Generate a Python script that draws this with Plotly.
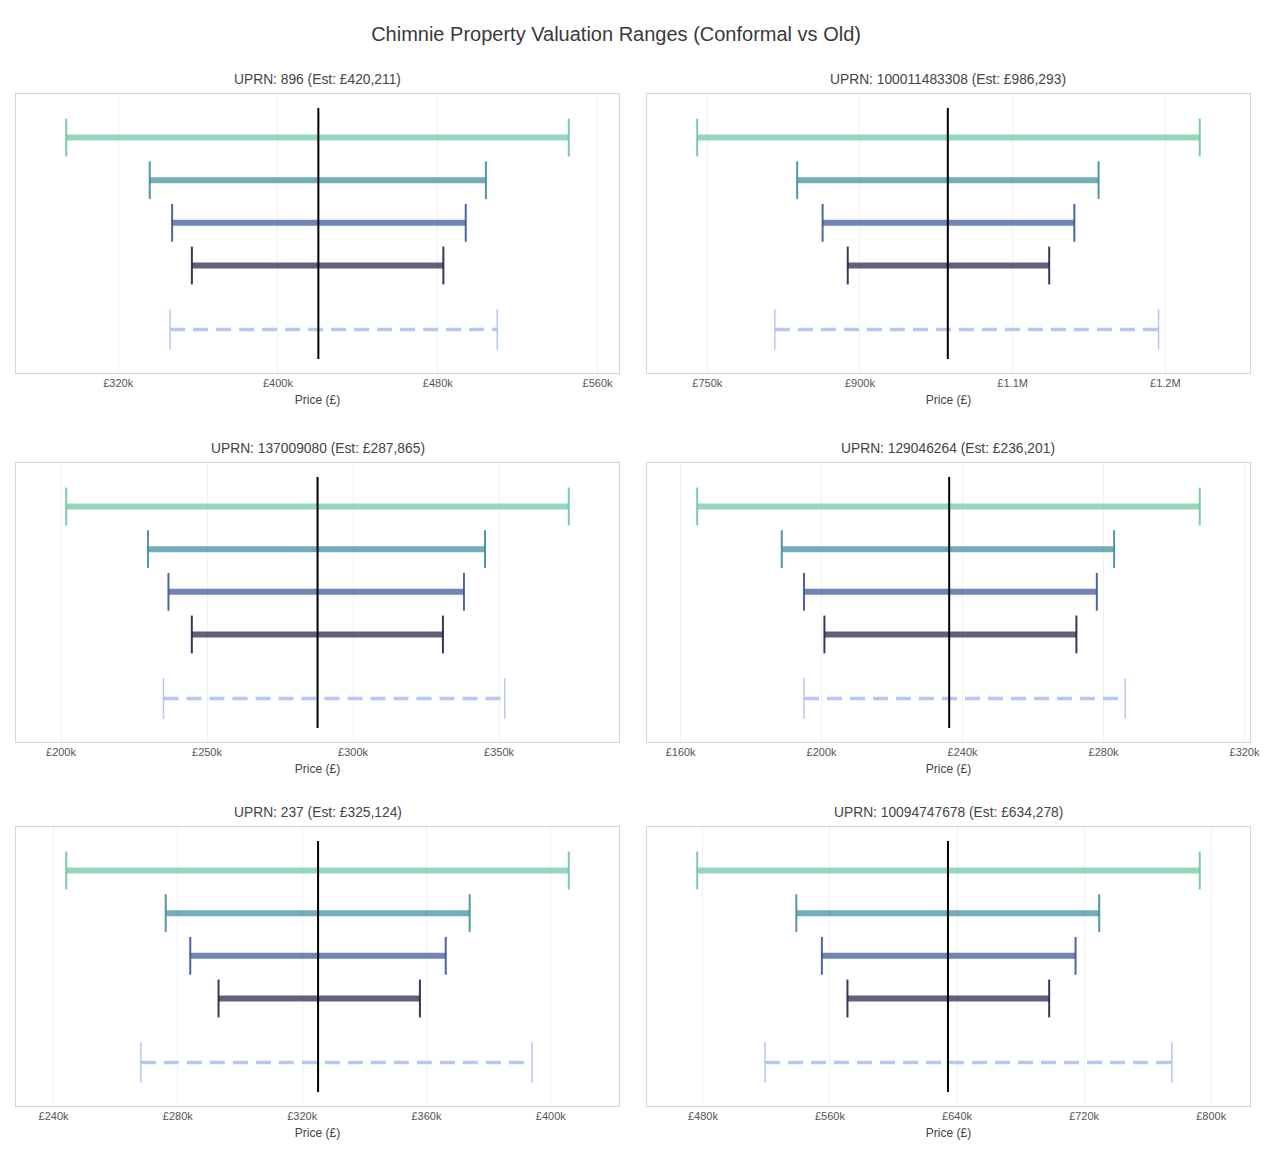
import plotly.graph_objects as go

# ---------------- data ----------------
uprns = ["896", "100011483308", "137009080", "129046264", "237", "10094747678"]
estimates = [420211, 986293, 287865, 236201, 325124, 634278]

level_names = ["Conformal (widest)", "Conformal (wide)", "Conformal (mid)", "Conformal (narrow)"]

# conformal intervals, in £
lower_l1 = [294000, 740100, 201800, 164700, 244100, 476400]
upper_l1 = [545600, 1233800, 373900, 307300, 405800, 792800]
lower_l2 = [335800, 838300, 229800, 188700, 276100, 538800]
upper_l2 = [504100, 1134400, 345200, 283000, 373900, 729500]
lower_l3 = [347000, 863300, 236800, 195000, 284000, 554900]
upper_l3 = [494000, 1110600, 338000, 278100, 366200, 714600]
lower_l4 = [356900, 888000, 244800, 200800, 293100, 571000]
upper_l4 = [482800, 1085900, 330800, 272300, 357900, 698000]

# old method range
old_lower = [346000, 816400, 235100, 195000, 268100, 519100]
old_upper = [509800, 1193300, 352000, 286200, 394000, 775200]

tick_values = [
    [320000, 400000, 480000, 560000],
    [750000, 900000, 1050000, 1200000],
    [200000, 250000, 300000, 350000],
    [160000, 200000, 240000, 280000, 320000],
    [240000, 280000, 320000, 360000, 400000],
    [480000, 560000, 640000, 720000, 800000],
]
tick_labels = [
    ["£320k", "£400k", "£480k", "£560k"],
    ["£750k", "£900k", "£1.1M", "£1.2M"],
    ["£200k", "£250k", "£300k", "£350k"],
    ["£160k", "£200k", "£240k", "£280k", "£320k"],
    ["£240k", "£280k", "£320k", "£360k", "£400k"],
    ["£480k", "£560k", "£640k", "£720k", "£800k"],
]

# ---------------- style ----------------
FONT = "Liberation Sans, Arial, sans-serif"
level_colors = [(108, 200, 160), (62, 140, 160), (58, 84, 152), (38, 33, 72)]
level_alpha = 0.72
old_color = (170, 192, 240)
row_y = [3, 2, 1, 0]      # conformal rows
old_y = -1.5              # old range row
y_range = [-2.52, 4.02]

x_domains = [[0.0, 0.4887], [0.5113, 1.0]]
y_domains = [[0.7243, 1.0], [0.3597, 0.6354], [0.0, 0.2757]]

fig = go.Figure()
lowers = [lower_l1, lower_l2, lower_l3, lower_l4]
uppers = [upper_l1, upper_l2, upper_l3, upper_l4]

layout_axes = {}
shapes = []
annotations = []

for i in range(6):
    r, c = divmod(i, 2)
    n = i + 1
    xa = "x" if n == 1 else f"x{n}"
    ya = "y" if n == 1 else f"y{n}"
    # conformal levels
    for k in range(4):
        rgb = level_colors[k]
        fig.add_trace(go.Scatter(
            x=[lowers[k][i], uppers[k][i]], y=[row_y[k], row_y[k]],
            mode="lines", line=dict(color=f"rgba({rgb[0]},{rgb[1]},{rgb[2]},{level_alpha})", width=6),
            xaxis=xa, yaxis=ya, showlegend=False, name=level_names[k], hoverinfo="x+name"))
        cap_col = f"rgba({rgb[0]},{rgb[1]},{rgb[2]},0.9)"
        fig.add_trace(go.Scatter(
            x=[lowers[k][i], uppers[k][i]], y=[row_y[k], row_y[k]],
            mode="markers",
            marker=dict(symbol="line-ns-open", size=27, color=cap_col,
                        line=dict(color=cap_col, width=2)),
            xaxis=xa, yaxis=ya, showlegend=False, name=level_names[k], hoverinfo="skip"))
    # old range
    old_col = f"rgba({old_color[0]},{old_color[1]},{old_color[2]},0.88)"
    fig.add_trace(go.Scatter(
        x=[old_lower[i], old_upper[i]], y=[old_y, old_y],
        mode="lines", line=dict(color=old_col, width=3.5, dash="15px,8px"),
        xaxis=xa, yaxis=ya, showlegend=False, name="Old range", hoverinfo="x+name"))
    fig.add_trace(go.Scatter(
        x=[old_lower[i], old_upper[i]], y=[old_y, old_y],
        mode="markers",
        marker=dict(symbol="line-ns-open", size=29, color=old_col,
                    line=dict(color=old_col, width=1.5)),
        xaxis=xa, yaxis=ya, showlegend=False, name="Old range", hoverinfo="skip"))

    lo = min(lower_l1[i], old_lower[i])
    hi = max(upper_l1[i], old_upper[i])
    span = hi - lo
    xr = [lo - 0.1 * span, hi + 0.1 * span]

    xkey = "xaxis" if n == 1 else f"xaxis{n}"
    ykey = "yaxis" if n == 1 else f"yaxis{n}"
    layout_axes[xkey] = dict(
        domain=x_domains[c], anchor=ya, range=xr,
        tickvals=tick_values[i], ticktext=tick_labels[i],
        tickfont=dict(size=11, color="#555555", family=FONT),
        showgrid=True, gridcolor="#f1f1f1", gridwidth=1,
        showline=True, linecolor="#d6d6d6", linewidth=1, mirror=True,
        zeroline=False, ticks="", ticklabeloverflow="allow", automargin=False,
        title=dict(text="Price (£)", font=dict(size=12, color="#444444", family=FONT), standoff=7),
    )
    layout_axes[ykey] = dict(
        domain=y_domains[r], anchor=xa, range=y_range, automargin=False,
        showticklabels=False, showgrid=False, zeroline=False,
        showline=True, linecolor="#d6d6d6", linewidth=1, mirror=True, ticks="",
    )
    shapes.append(dict(
        type="line", xref=xa, yref=f"{ya} domain",
        x0=estimates[i], x1=estimates[i], y0=0.05, y1=0.95,
        line=dict(color="black", width=2), layer="above"))
    annotations.append(dict(
        text=f"UPRN: {uprns[i]} (Est: £{estimates[i]:,})",
        xref="paper", yref="paper",
        x=(x_domains[c][0] + x_domains[c][1]) / 2, y=y_domains[r][1],
        xanchor="center", yanchor="bottom", yshift=5, showarrow=False,
        font=dict(size=13.8, color="#444444", family=FONT)))

fig.update_layout(
    width=1265, height=1166,
    margin=dict(l=16, r=15, t=94, b=60),
    paper_bgcolor="white", plot_bgcolor="white",
    title=dict(text="Chimnie Property Valuation Ranges (Conformal vs Old)",
               x=0.487, xanchor="center", y=0.971, yanchor="middle",
               font=dict(size=20, color="#3a3a3a", family=FONT)),
    font=dict(family=FONT),
    showlegend=False,
    shapes=shapes,
    annotations=annotations,
    **layout_axes,
)

fig.write_html("out.html")
